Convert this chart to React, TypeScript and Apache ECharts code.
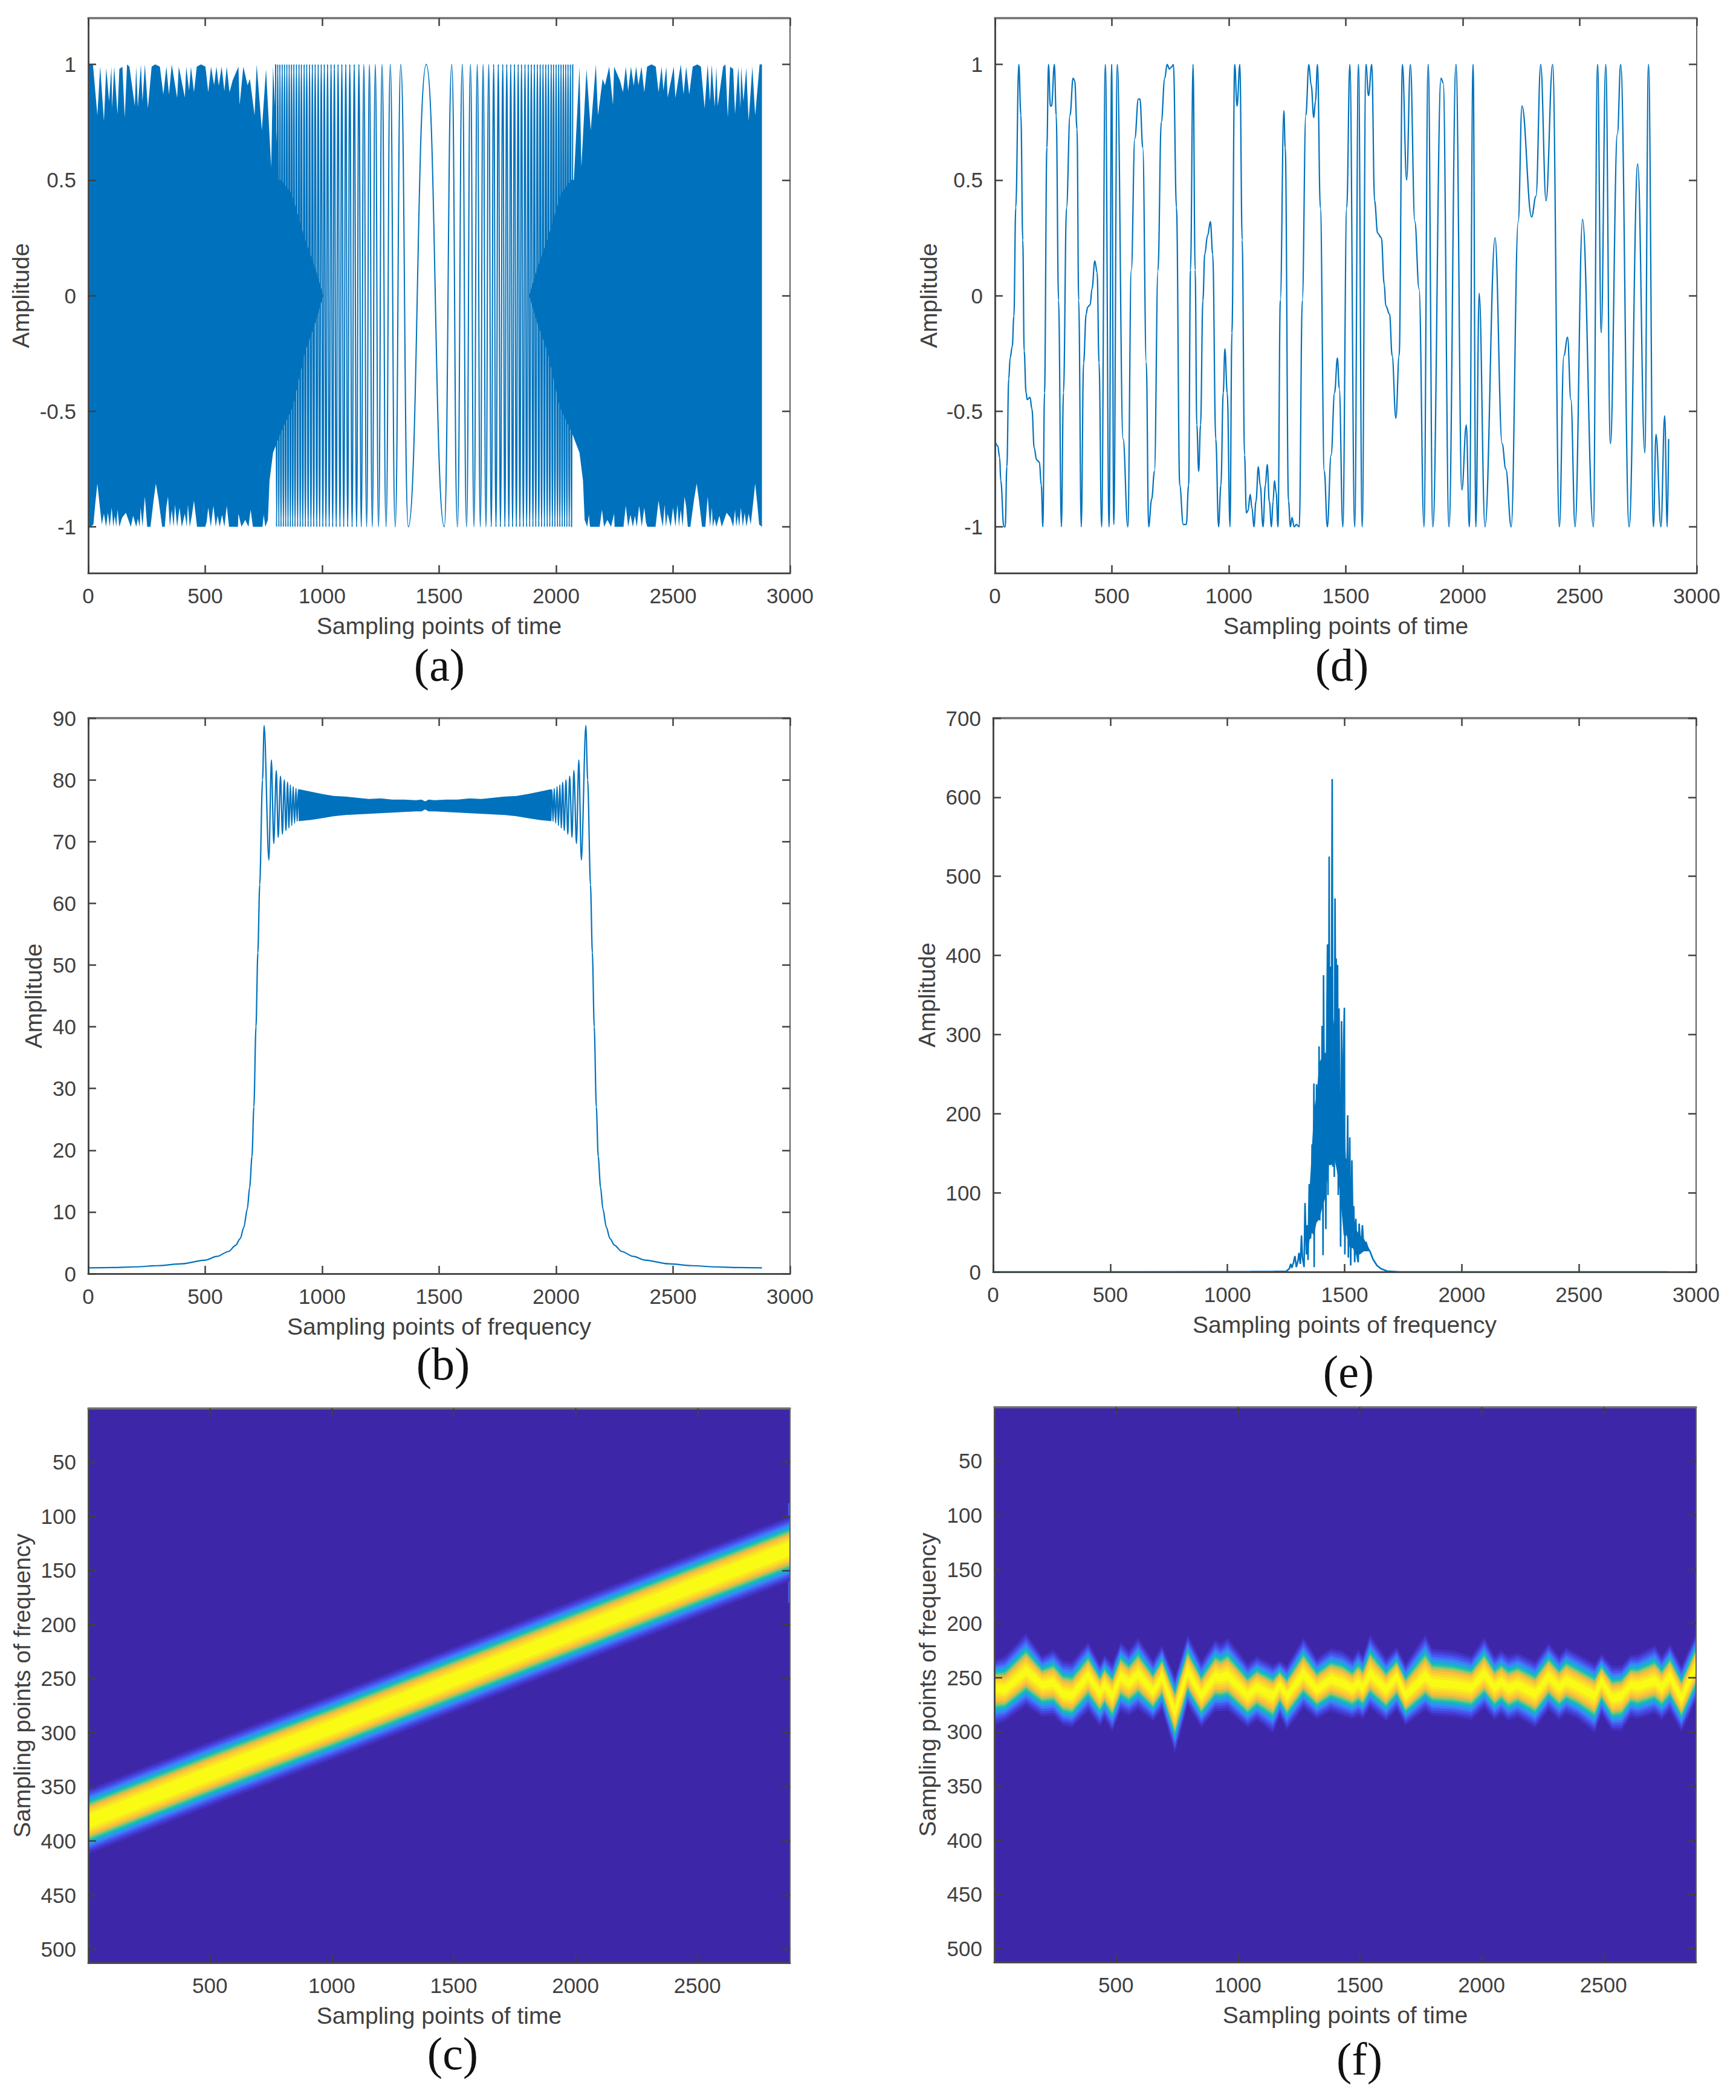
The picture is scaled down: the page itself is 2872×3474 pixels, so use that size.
import React, { useEffect, useRef } from "react";
import * as echarts from "echarts";

// ---------- tick labels ----------
const timeTicks = [0, 500, 1000, 1500, 2000, 2500, 3000];
const unitTicks = [-1, -0.5, 0, 0.5, 1];
const bTicks = [0, 10, 20, 30, 40, 50, 60, 70, 80, 90];
const eTicks = [0, 100, 200, 300, 400, 500, 600, 700];
const heatXTicks = [500, 1000, 1500, 2000, 2500];
const heatYTicks = [50, 100, 150, 200, 250, 300, 350, 400, 450, 500];

// ---------- (a) time waveform: edges of the solid regions and visible turning points ----------
const aLeftTop = [[0,1],[20,1],[39,.78],[51,.99],[67,.755],[77,.985],[89,.84],[99,.99],[102,.81],[111,.99],[125,.785],[133,.98],[146,.99],[156,.77],[166,1],[176,.99],[199,.82],[205,.99],[212,.815],[225,1],[232,.84],[242,1],[255,.81],[271,.99],[286,1],[306,.99],[321,.87],[334,.99],[345,.87],[357,1],[380,.855],[387,.99],[413,.857],[419,.99],[431,.887],[439,.99],[452,.88],[464,.99],[482,1],[501,.99],[513,.88],[525,.99],[538,.91],[548,.99],[558,.907],[570,.99],[582,.885],[592,.99],[604,.88],[617,.93],[642,.99],[647,.825],[663,.99],[681,.91],[691,.937],[711,.78],[720,1],[742,.715],[760,.98],[782,.555],[790,.99],[814,.5],[825,.5],[870,.44],[925,.25],[970,.12],[1005,0]];
const aLeftBottom = [[0,-1],[10,-1],[22,-.99],[30,-.9],[39,-.813],[48,-.9],[58,-.99],[67,-.943],[76,-1],[84,-.939],[92,-1],[100,-.917],[107,-1],[113,-.952],[120,-1],[125,-.926],[133,-1],[145,-.96],[161,-.939],[182,-1],[192,-.952],[205,-1],[212,-.965],[220,-1],[224,-.917],[232,-1],[242,-.869],[252,-1],[266,-1],[280,-.88],[289,-.813],[300,-.88],[316,-1],[327,-1],[334,-.913],[341,-.869],[349,-1],[357,-.926],[365,-1],[371,-.904],[380,-1],[390,-.917],[400,-1],[413,-.943],[421,-1],[426,-.904],[434,-1],[443,-.95],[452,-.887],[465,-1],[500,-1],[506,-.98],[513,-.917],[524,-1],[535,-.909],[545,-1],[553,-.952],[562,-1],[572,-.948],[582,-1],[592,-.909],[602,-1],[640,-1],[642,-.943],[655,-1],[671,-.97],[685,-1],[694,-.926],[704,-1],[745,-1],[750,-.948],[757,-1],[768,-.97],[775,-.8],[790,-.68],[820,-.6],[875,-.48],[925,-.25],[970,-.12],[1005,0]];
const aRightTop = [[1885,0],[1920,.12],[1965,.25],[2020,.44],[2065,.5],[2076,.5],[2100,.99],[2108,.555],[2130,.98],[2148,.715],[2170,1],[2179,.78],[2199,.937],[2209,.91],[2227,.99],[2243,.825],[2248,.99],[2273,.93],[2286,.88],[2298,.99],[2308,.885],[2320,.99],[2332,.907],[2342,.99],[2352,.91],[2365,.99],[2377,.88],[2389,.99],[2408,1],[2426,.99],[2438,.88],[2451,.99],[2459,.887],[2471,.99],[2477,.857],[2503,.99],[2510,.855],[2533,1],[2545,.87],[2556,.99],[2569,.87],[2584,.99],[2604,1],[2619,.99],[2635,.81],[2648,1],[2658,.84],[2665,1],[2678,.815],[2685,.99],[2691,.82],[2714,.99],[2724,1],[2734,.77],[2744,.99],[2757,.98],[2765,.785],[2779,.99],[2788,.81],[2791,.99],[2801,.84],[2813,.985],[2823,.755],[2839,.99],[2851,.78],[2870,1],[2880,1]];
const aRightBottom = [[1885,0],[1920,-.12],[1965,-.25],[2015,-.48],[2070,-.6],[2100,-.68],[2115,-.8],[2122,-.97],[2133,-1],[2140,-.948],[2145,-1],[2186,-1],[2196,-.926],[2205,-1],[2219,-.97],[2235,-1],[2248,-.943],[2250,-1],[2288,-1],[2298,-.909],[2308,-1],[2318,-.948],[2328,-1],[2337,-.952],[2345,-1],[2355,-.909],[2366,-1],[2377,-.917],[2384,-.98],[2390,-1],[2425,-1],[2438,-.887],[2447,-.95],[2456,-1],[2464,-.904],[2469,-1],[2477,-.943],[2490,-1],[2500,-.917],[2510,-1],[2519,-.904],[2525,-1],[2533,-.926],[2541,-1],[2549,-.869],[2556,-.913],[2563,-1],[2574,-1],[2590,-.88],[2601,-.813],[2610,-.88],[2624,-1],[2638,-1],[2648,-.869],[2658,-1],[2666,-.917],[2670,-1],[2678,-.965],[2685,-1],[2698,-.952],[2708,-1],[2729,-.939],[2745,-.96],[2757,-1],[2765,-.926],[2770,-1],[2777,-.952],[2783,-1],[2790,-.917],[2798,-1],[2806,-.939],[2814,-1],[2823,-.943],[2832,-.99],[2842,-.9],[2851,-.813],[2860,-.9],[2868,-.99],[2880,-1]];
const aPeaksX = [801,805,810,815,819,824,829,834,839,844,849,854,859,864,869,874,879,884,890,895,901,906,911,917,923,928,934,940,946,952,958,964,970,977,983,989,996,1003,1009,1016,1023,1030,1038,1045,1052,1060,1068,1076,1084,1092,1101,1109,1118,1128,1137,1147,1157,1167,1178,1190,1202,1214,1227,1241,1256,1273,1291,1312,1336,1368,1445,1522,1554,1578,1599,1617,1634,1649,1663,1676,1688,1700,1712,1723,1733,1743,1753,1762,1772,1781,1789,1798,1806,1814,1822,1830,1838,1845,1852,1860,1867,1874,1881,1887,1894,1901,1907,1913,1920,1926,1932,1938,1944,1950,1956,1962,1967,1973,1979,1984,1989,1995,2000,2006,2011,2016,2021,2026,2031,2036,2041,2046,2051,2056,2061,2066,2071,2075,2080,2085,2089];
const aPeaksY = [1,-1,1,-1,1,-1,1,-1,1,-1,1,-1,1,-1,1,-1,1,-1,1,-1,1,-1,1,-1,1,-1,1,-1,1,-1,1,-1,1,-1,1,-1,1,-1,1,-1,1,-1,1,-1,1,-1,1,-1,1,-1,1,-1,1,-1,1,-1,1,-1,1,-1,1,-1,1,-1,1,-1,1,-1,1,-1,1,-1,1,-1,1,-1,1,-1,1,-1,1,-1,1,-1,1,-1,1,-1,1,-1,1,-1,1,-1,1,-1,1,-1,1,-1,1,-1,1,-1,1,-1,1,-1,1,-1,1,-1,1,-1,1,-1,1,-1,1,-1,1,-1,1,-1,1,-1,1,-1,1,-1,1,-1,1,-1,1,-1,1];

// ---------- (b) spectrum ----------
const bCurve = [[1,.95],[100,1],[200,1.1],[300,1.3],[400,1.6],[500,2.2],[550,2.8],[600,3.6],[630,4.6],[650,5.7],[665,7.5],[680,10.5],[690,14],[700,19],[708,27],[717,40],[725,52],[733,63],[745,80],[752,88.8],[772,67],[783,83.2],[793,69.7],[804,81.5],[812,70.7],[822,80.6],[830,71.2],[838,80],[845,71.8],[852,79.6],[858,72.2],[864,79.2],[870,72.6],[876,78.9],[882,73],[888,78.6],[893,73.3],[898,78.4],[903,73.5]];
const bCurveRight = [[1977,73.5],[1982,78.4],[1987,73.3],[1992,78.6],[1998,73],[2004,78.9],[2010,72.6],[2016,79.2],[2022,72.2],[2028,79.6],[2035,71.8],[2042,80],[2050,71.2],[2058,80.6],[2068,70.7],[2076,81.5],[2087,69.7],[2097,83.2],[2108,67],[2127,88.8],[2135,80],[2147,63],[2155,52],[2163,40],[2172,27],[2180,19],[2190,14],[2200,10.5],[2215,7.5],[2230,5.7],[2250,4.6],[2280,3.6],[2330,2.8],[2380,2.2],[2480,1.6],[2580,1.3],[2680,1.1],[2780,1],[2880,.95]];
const bBandX = [900,950,1000,1050,1100,1150,1200,1250,1300,1350,1400,1425,1440,1455,1480,1530,1580,1630,1680,1730,1780,1830,1880,1930,1980];
const bBandTop = [78.5,78.1,77.7,77.4,77.3,77.1,76.9,77,76.8,76.8,76.7,76.8,76.5,76.8,76.7,76.8,76.8,77,76.9,77.1,77.3,77.4,77.7,78.1,78.5];
const bBandBottom = [73.3,73.5,73.8,74.1,74.3,74.4,74.5,74.6,74.7,74.8,74.9,74.9,75.2,74.9,74.9,74.8,74.7,74.6,74.5,74.4,74.3,74.1,73.8,73.5,73.3];

// ---------- (d) time waveform ----------
const dSignal = [[1,-.63],[12,-.65],[20,-.7],[25,-.8],[38,-1],[44,-1],[51,-.74],[59,-.36],[65,-.27],[74,-.22],[81,-.09],[89,.38],[102,1],[111,.78],[119,.24],[125,-.24],[133,-.42],[138,-.45],[150,-.44],[158,-.49],[168,-.66],[178,-.71],[190,-.72],[198,-.82],[205,-1],[212,-.42],[222,.64],[229,1],[237,.82],[242,.82],[254,1],[262,.78],[272,-.02],[284,-1],[293,-.42],[306,.38],[321,.78],[334,.94],[341,.93],[351,.72],[358,-.02],[369,-1],[379,-.29],[390,-.08],[396,-.05],[407,-.04],[415,.03],[427,.15],[437,.1],[445,-.29],[456,-1],[472,1],[488,-1],[499,1],[508,-.99],[523,1],[548,-.62],[568,-1],[583,.11],[598,.68],[613,.85],[620,.85],[632,.64],[647,-.29],[657,-1],[670,-.88],[682,-.76],[697,.11],[711,.75],[726,.94],[736,1],[746,.98],[756,.99],[763,1],[776,.38],[790,-.82],[805,-.99],[818,-.99],[828,-.82],[836,.11],[847,1],[856,.11],[863,-.56],[871,-.76],[879,-.56],[889,-.02],[897,.18],[909,.26],[921,.32],[931,.18],[944,-.62],[956,-1],[966,-.82],[976,-.42],[983,-.23],[993,-.42],[1005,-1],[1013,-.16],[1025,1],[1035,.82],[1047,1],[1057,.24],[1067,-.69],[1075,-.94],[1082,-.93],[1091,-.86],[1099,-.92],[1107,-1],[1116,-.89],[1126,-.74],[1134,-.82],[1146,-1],[1156,-.82],[1164,-.73],[1173,-.89],[1182,-1],[1189,-.89],[1195,-.8],[1202,-.85],[1210,-1],[1220,-.02],[1235,.8],[1241,.64],[1255,-.89],[1263,-1],[1270,-.96],[1279,-1],[1289,-.99],[1301,-1],[1314,-.02],[1329,.78],[1342,1],[1352,.91],[1363,.77],[1370,.84],[1379,1],[1391,.38],[1408,-.76],[1421,-1],[1437,-.69],[1452,-.42],[1464,-.27],[1472,-.4],[1487,-1],[1504,.38],[1517,1],[1538,-1],[1554,1],[1570,-1],[1586,1],[1597,.865],[1611,1],[1623,.41],[1636,.27],[1652,.25],[1664,.05],[1671,-.045],[1687,-.08],[1698,-.26],[1714,-.53],[1728,-.26],[1742,1],[1760,.5],[1776,1],[1795,.32],[1813,.03],[1834,-1],[1852,1],[1872,-1],[1907,.94],[1916,.92],[1941,-1],[1971,1],[1996,-.84],[2015,-.56],[2028,-1],[2044,1],[2056,-1],[2070,.01],[2095,-1],[2138,.25],[2168,-.64],[2184,-.75],[2207,-1],[2237,.32],[2253,.82],[2294,.34],[2313,.43],[2333,1],[2356,.41],[2384,1],[2413,-1],[2432,-.26],[2448,-.18],[2462,-.45],[2480,-1],[2512,.33],[2558,-1],[2576,1],[2592,-.16],[2611,1],[2631,-.64],[2661,.7],[2675,1],[2711,-1],[2748,.57],[2778,-.68],[2794,1],[2815,-1],[2826,-.6],[2847,-1],[2863,-.52],[2874,-1],[2880,-.62]];

// ---------- (e) spectrum ----------
const eX = [1,600,1100,1200,1251,1264,1270,1275,1282,1288,1294,1301,1305,1311,1316,1320,1327,1331,1337,1340,1344,1349,1354,1358,1361,1366,1369,1370,1373,1377,1380,1384,1389,1391,1394,1397,1401,1404,1408,1410,1414,1416,1420,1423,1427,1429,1432,1434,1436,1440,1444,1447,1450,1453,1456,1459,1463,1464,1468,1470,1473,1476,1480,1483,1487,1490,1494,1499,1501,1506,1509,1513,1516,1522,1526,1531,1535,1539,1543,1548,1552,1558,1562,1569,1576,1582,1591,1599,1608,1621,1638,1655,1681,1733,2000,2880];
const eY = [0,0,.3,.5,.8,4,10,5,12,20,6,14,24,10,46,18,6,87,22,59,15,111,42,55,161,67,238,6,208,91,237,103,164,285,65,264,176,311,21,375,184,277,54,273,414,97,224,525,135,386,313,623,133,313,120,472,224,396,155,388,97,333,184,32,317,95,264,334,22,143,83,198,18,170,8,141,63,83,12,67,22,12,61,26,59,26,38,30,26,16,8,4,1,0,0,0];
const eCoreUpper = [[1346,82],[1358,143],[1369,204],[1380,224],[1393,265],[1406,273],[1419,273],[1432,305],[1445,345],[1457,305],[1470,265],[1483,224],[1496,204],[1509,123],[1522,123],[1535,82],[1548,54],[1565,46],[1582,42],[1604,30]];
const eCoreLower = [[1346,34],[1358,50],[1369,46],[1380,62],[1393,67],[1406,83],[1419,95],[1432,135],[1445,135],[1457,143],[1470,123],[1483,91],[1496,46],[1509,46],[1522,30],[1535,30],[1548,22],[1565,22],[1582,26],[1604,26]];

// ---------- (c) time-frequency ridge ----------
const cTimes = [1,500,1000,1500,2000,2500,2880];
const cRidge = [382,338,295,251,207,163,130];
const cUpper = [353,309,266,222,178,134,101];
const cLower = [411,367,324,280,236,192,159];
const cLevels = [1.03,.95,.88,.81,.75,.69,.64,.59,.54,.49,.44,.37,.3,.22];
const cEdgeStrip = [[2872,88],[2880,88],[2880,180],[2872,180]];

// ---------- (f) time-frequency ridge ----------
const fTimes = [1,45,131,197,244,282,320,386,434,453,485,519,553,591,652,689,742,794,850,907,930,958,1040,1078,1144,1172,1201,1269,1324,1381,1428,1470,1494,1513,1542,1608,1652,1688,1769,1797,1883,1958,2011,2053,2081,2110,2148,2220,2275,2318,2347,2394,2464,2492,2536,2574,2612,2640,2710,2739,2773,2820,2880];
const fRidge = [259,261,244,256.5,255,265,266.5,248,264,256.5,266.5,249,255,246.5,263,249,281,244,266.5,249,250,248,266.5,259,266.5,256.5,266.5,246.5,261,251.5,255,260,255,259,246.5,261,249,266.5,249,255,256.5,259,246.5,259,254,260,256.5,265,249,259,253,258,266.5,253,269,266.5,256.5,258,253,259,249,269,239];
const fUpper = [234,230,209,230,224,234,235,217,237,229,237,217,225,213,234,220,249,210,235,215,219,213,237,230,238,234,239,213,232,223,225,232,224,230,210,232,222,237,210,223,225,230,213,230,225,230,227,235,218,230,222,228,237,228,239,239,229,229,220,230,219,239,209];
const fLower = [294,290,276,286,285,294,296,281,295,288,300,281,285,279,290,280,320,276,296,281,281,280,296,289,301,286,298,278,288,281,285,288,285,288,278,290,280,294,280,285,286,289,278,289,284,290,286,296,280,289,283,288,301,284,299,299,286,288,283,289,281,300,271];
const fLevels = [1,.92,.84,.76,.69,.63,.57,.52,.47,.42,.36,.28,.2,.12];

const levelColors = ["#4230be","#4540da","#4558ee","#3f78f8","#2f94ec","#19aad8","#1cbcb4","#4ec58e","#98c76a","#d8bd48","#fcc23c","#fad72c","#f9ea1e","#f9fb15"];
const LOW = "#3d27a8";
const BLUE = "#0072BD";
const INK = "#404040";
const SANS = "'Liberation Sans', Arial, sans-serif";

const captions = [
  { t: "(a)", x: 727, y: 1100 }, { t: "(d)", x: 2220, y: 1100 },
  { t: "(b)", x: 733, y: 2256 }, { t: "(e)", x: 2231, y: 2269 },
  { t: "(c)", x: 749, y: 3397 }, { t: "(f)", x: 2249, y: 3406 },
];

type P = { l: number; r: number; t: number; b: number; xName: string; yName: string; gap: number; xMin: number; xMax: number; yMin: number; yMax: number; xTicks: number[]; yTicks: number[]; inverse?: boolean; bg?: boolean };

const panels: P[] = [
  { l: 146, r: 1307, t: 30, b: 948, xName: "Sampling points of time", yName: "Amplitude", gap: 92, xMin: 0, xMax: 3000, yMin: -1.2, yMax: 1.2, xTicks: timeTicks, yTicks: unitTicks },
  { l: 146, r: 1307, t: 1188, b: 2107, xName: "Sampling points of frequency", yName: "Amplitude", gap: 71, xMin: 0, xMax: 3000, yMin: 0, yMax: 90, xTicks: timeTicks, yTicks: bTicks },
  { l: 146, r: 1307, t: 2330, b: 3247, xName: "Sampling points of time", yName: "Sampling points of frequency", gap: 90, xMin: 1, xMax: 2880, yMin: 0.5, yMax: 512.5, xTicks: heatXTicks, yTicks: heatYTicks, inverse: true, bg: true },
  { l: 1646, r: 2807, t: 30, b: 948, xName: "Sampling points of time", yName: "Amplitude", gap: 90, xMin: 0, xMax: 3000, yMin: -1.2, yMax: 1.2, xTicks: timeTicks, yTicks: unitTicks },
  { l: 1643, r: 2806, t: 1188, b: 2104, xName: "Sampling points of frequency", yName: "Amplitude", gap: 90, xMin: 0, xMax: 3000, yMin: 0, yMax: 700, xTicks: timeTicks, yTicks: eTicks },
  { l: 1645, r: 2806, t: 2328, b: 3246, xName: "Sampling points of time", yName: "Sampling points of frequency", gap: 91, xMin: 1, xMax: 2880, yMin: 0.5, yMax: 512.5, xTicks: heatXTicks, yTicks: heatYTicks, inverse: true, bg: true },
];

const W = 2872;
const H = 3474;
const plain = (v: number) => String(v);

function line(i: number, data: number[][], smooth = 0, width = 2.2) {
  return {
    type: "line", xAxisIndex: 2 * i, yAxisIndex: 2 * i, data, showSymbol: false, silent: true, clip: false, z: 3,
    smooth: smooth || false, smoothMonotone: smooth ? "x" : undefined,
    lineStyle: { color: BLUE, width }, itemStyle: { color: BLUE },
  };
}

function polygon(i: number, pts: number[][], color = BLUE) {
  return {
    type: "custom", xAxisIndex: 2 * i, yAxisIndex: 2 * i, silent: true, z: 2, data: [pts[0]],
    renderItem: (_p: any, api: any) => ({
      type: "polygon",
      shape: { points: pts.map((p) => api.coord(p)) },
      style: { fill: color },
    }),
  };
}

function ridgeBands(i: number, times: number[], ridge: number[], upper: number[], lower: number[], levels: number[]) {
  return {
    type: "custom", xAxisIndex: 2 * i, yAxisIndex: 2 * i, silent: true, z: 2,
    data: levels.map((t) => [times[0], t]),
    renderItem: (p: any, api: any) => {
      const t = levels[p.dataIndex];
      const top = times.map((x, k) => api.coord([x, ridge[k] + t * (upper[k] - ridge[k])]));
      const bot = times.map((x, k) => api.coord([x, ridge[k] + t * (lower[k] - ridge[k])]));
      return { type: "polygon", shape: { points: top.concat(bot.reverse()) }, style: { fill: levelColors[p.dataIndex] } };
    },
  };
}

export default function App() {
  const ref = useRef<HTMLDivElement>(null);
  useEffect(() => {
    document.body.style.margin = "0";
    const chart = echarts.init(ref.current!, null, { renderer: "svg", width: W, height: H });
    const lineStyle = { color: "#4a4a4a", width: 3 };
    const xAxis: any[] = [];
    const yAxis: any[] = [];
    panels.forEach((p, i) => {
      const tick = (vals: number[]) => ({ show: true, inside: true, length: 13, lineStyle: { color: "#404040", width: 2.5 }, customValues: vals });
      xAxis.push({
        type: "value", gridIndex: i, position: "bottom", min: p.xMin, max: p.xMax, z: 10,
        name: p.xName, nameLocation: "middle", nameGap: 68, nameMoveOverlap: false,
        nameTextStyle: { fontFamily: SANS, fontSize: 39, color: INK },
        axisLine: { show: true, onZero: false, lineStyle }, axisTick: tick(p.xTicks),
        axisLabel: { show: true, fontFamily: SANS, fontSize: 35, color: INK, margin: 20, customValues: p.xTicks, formatter: plain, hideOverlap: false, showMinLabel: true, showMaxLabel: true },
        splitLine: { show: false },
      });
      xAxis.push({
        type: "value", gridIndex: i, position: "top", min: p.xMin, max: p.xMax, z: 10,
        axisLine: { show: true, onZero: false, lineStyle: { color: "#707070", width: 3.5 } }, axisTick: tick(p.xTicks),
        axisLabel: { show: false }, splitLine: { show: false },
      });
      yAxis.push({
        type: "value", gridIndex: i, position: "left", min: p.yMin, max: p.yMax, inverse: !!p.inverse, z: 10,
        name: p.yName, nameLocation: "middle", nameGap: p.gap, nameMoveOverlap: false,
        nameTextStyle: { fontFamily: SANS, fontSize: 39, color: INK },
        axisLine: { show: true, onZero: false, lineStyle }, axisTick: tick(p.yTicks),
        axisLabel: { show: true, fontFamily: SANS, fontSize: 35, color: INK, margin: 20, customValues: p.yTicks, formatter: plain, hideOverlap: false, showMinLabel: true, showMaxLabel: true },
        splitLine: { show: false },
      });
      yAxis.push({
        type: "value", gridIndex: i, position: "right", min: p.yMin, max: p.yMax, inverse: !!p.inverse, z: 10,
        axisLine: { show: true, onZero: false, lineStyle: { color: "#606060", width: 2 } }, axisTick: tick(p.yTicks),
        axisLabel: { show: false }, splitLine: { show: false },
      });
    });
    const aSeries = aPeaksX.map((x, k) => [x, aPeaksY[k]]);
    const bBand = bBandX.map((x, k) => [x, bBandTop[k]]).concat(bBandX.map((x, k) => [x, bBandBottom[k]]).reverse());
    chart.setOption({
      animation: false,
      backgroundColor: "#ffffff",
      grid: panels.map((p) => ({
        left: p.l, top: p.t, width: p.r - p.l, height: p.b - p.t, containLabel: false,
        show: !!p.bg, backgroundColor: p.bg ? LOW : "transparent", borderWidth: 0,
      })),
      xAxis,
      yAxis,
      series: [
        polygon(0, aLeftTop.concat(aLeftBottom.slice().reverse())),
        polygon(0, aRightTop.concat(aRightBottom.slice().reverse())),
        line(0, aSeries, 0.5, 2),
        polygon(1, bBand),
        line(1, bCurve, 0.3),
        line(1, bCurveRight, 0.3),
        polygon(2, cEdgeStrip, "#4558ee"),
        ridgeBands(2, cTimes, cRidge, cUpper, cLower, cLevels),
        line(3, dSignal, 0.4),
        polygon(4, eCoreUpper.concat(eCoreLower.slice().reverse())),
        line(4, eX.map((x, k) => [x, eY[k]]), 0, 2.6),
        ridgeBands(5, fTimes, fRidge, fUpper, fLower, fLevels),
      ],
      graphic: captions.map((c) => ({
        type: "text", x: c.x, y: c.y, z: 20,
        style: { text: c.t, fontFamily: "'Liberation Serif', 'Times New Roman', serif", fontSize: 76, fill: "#111111", align: "center", verticalAlign: "middle" },
      })),
    });
    return () => chart.dispose();
  }, []);
  return <div ref={ref} style={{ position: "absolute", left: 0, top: 0, width: W, height: H }} />;
}
